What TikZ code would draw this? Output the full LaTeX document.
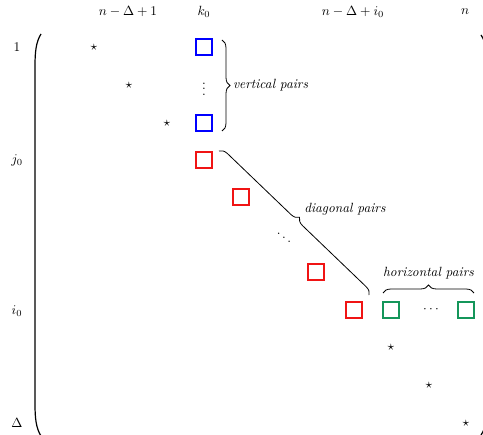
\documentclass[tikz,border=0pt]{standalone}
\usetikzlibrary{decorations.pathreplacing}
\definecolor{sqblue}{RGB}{0,0,255}
\definecolor{sqred}{RGB}{240,20,20}
\definecolor{sqgreen}{RGB}{20,150,90}
\begin{document}
\begin{tikzpicture}[x=0.75pt,y=-0.75pt,
  sq/.style={draw,thick,minimum size=12pt,inner sep=0pt},
  bsq/.style={sq,draw=sqblue},
  rsq/.style={sq,draw=sqred},
  gsq/.style={sq,draw=sqgreen},
  lbl/.style={inner sep=0pt},
  paren/.style={line width=0.9pt},
  brc/.style={decorate,decoration={brace,amplitude=6pt},semithick},
  bl/.style={font=\itshape,inner sep=0pt}]
\useasboundingbox (0,0) rectangle (483,435);
\clip (0,0) rectangle (483,435);
% column labels
\node[lbl] (c1) at (128,12) {$n-\Delta+1$};
\node[lbl] (c3) at (204,12) {$k_0$};
\node[lbl] (c7) at (353,12) {$n-\Delta+i_0$};
\node[lbl] (c10) at (465,12) {$n$};
% row labels
\node[lbl] (r0) at (17,47) {$1$};
\node[lbl] (r3) at (17,160) {$j_0$};
\node[lbl] (r7) at (17,311) {$i_0$};
\node[lbl] (r10) at (17,423) {$\Delta$};
% parentheses
\draw[paren] (41,34) .. controls (36,42) and (35,52) .. (35,66) -- (35,404) .. controls (35,418) and (36,428) .. (41,436);
\draw[paren] (481,35) .. controls (486,42) and (487,52) .. (487,66) -- (487,404) .. controls (487,418) and (486,428) .. (481,435);
% stars
\node[lbl] (s1) at (94,47) {$\star$};
\node[lbl] (s2) at (129,85) {$\star$};
\node[lbl] (s3) at (167,123) {$\star$};
\node[lbl] (s4) at (391,347) {$\star$};
\node[lbl] (s5) at (429,385) {$\star$};
\node[lbl] (s6) at (466,423) {$\star$};
% blue
\node[bsq] (b1) at (204,47) {};
\node[lbl] (vd) at (204,85) {$\vdots$};
\node[bsq] (b2) at (204,123) {};
% red
\node[rsq] (red1) at (204,160) {};
\node[rsq] (red2) at (241,197) {};
\node[lbl] (dd) at (284,234) {$\ddots$};
\node[rsq] (red3) at (316,272) {};
\node[rsq] (red4) at (354,310) {};
% green
\node[gsq] (g1) at (391,310) {};
\node[lbl] (cd) at (431,310) {$\cdots$};
\node[gsq] (g2) at (466,310) {};
% braces
\coordinate (v1) at (222,40);
\coordinate (v2) at (222,131);
\draw[brc] (v1) -- (v2) node[midway,right=8pt,bl] {vertical pairs};
\coordinate (d1) at (219,151);
\coordinate (d2) at (369,295);
\draw[brc] (d1) -- (d2);
\node[bl,anchor=west] (dl) at (304,209) {diagonal pairs};
\coordinate (h1) at (383,293);
\coordinate (h2) at (474,293);
\draw[brc] (h1) -- (h2) node[midway,above=10pt,bl] {horizontal pairs};
\end{tikzpicture}
\end{document}
